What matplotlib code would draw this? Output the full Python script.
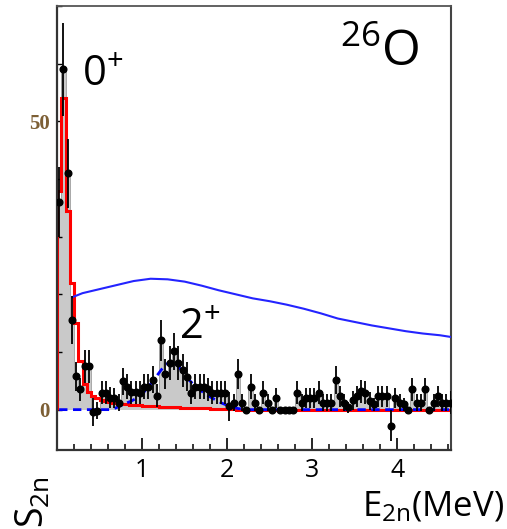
import numpy as np
import matplotlib
matplotlib.use("Agg")
import matplotlib.pyplot as plt
from matplotlib.ticker import MultipleLocator, FixedLocator, NullFormatter

plt.rcParams['font.family'] = ['Open Sans', 'DejaVu Sans']
plt.rcParams['mathtext.default'] = 'regular'

# 0.05 MeV bins, 0 .. 4.65 MeV
bin_width = 0.05
n_bins = 93

counts = [36, 59, 41, 15.5, 5.8, 3.5, 7.5, 7.5, -0.4, -0.2,
          2.9, 2.9, 2.1, 2.0, 1.2, 4.9, 4.0, 3.0, 3.0, 2.9,
          4.0, 4.0, 5.2, 2.4, 12.0, 6.2, 8.1, 10.1, 8.1, 6.8,
          5.7, 2.9, 4.0, 4.0, 4.0, 3.5, 2.9, 2.9, 2.9, 2.9,
          0.6, 1.2, 6.1, 1.2, 0.0, 4.0, 1.2, 0.0, 2.9, 1.2,
          0.0, 2.0, 0.0, 0.0, 0.0, 0.0, 2.9, 1.2, 2.0, 2.0,
          2.0, 2.9, 1.2, 1.2, 1.2, 5.1, 2.3, 1.2, 0.4, 1.6,
          2.3, 3.2, 2.9, 1.5, 0.9, 2.3, 2.3, 2.3, -2.8, 2.0,
          1.2, 0.9, 0.0, 3.5, 1.2, 1.2, 3.5, 0.0, 1.2, 2.3,
          1.2, 1.2, 1.2]

errors = [6, 8, 6, 4.2, 2.5, 2, 2.8, 2.8, 2.5, 1.5,
          2, 2, 1.8, 1.8, 1.5, 2.3, 2.2, 2, 2, 2,
          2.2, 2.2, 2.4, 2, 3.5, 2.6, 3, 3.2, 3, 2.8,
          2.5, 2, 2.2, 2.2, 2.2, 2, 2, 2, 2, 2,
          2.5, 1.5, 2.6, 1.5, 0.5, 2.2, 1.5, 0.5, 2, 1.5,
          0.5, 1.8, 0.5, 0.5, 0.5, 0.5, 2, 1.5, 1.8, 1.8,
          1.8, 2, 1.5, 1.5, 1.5, 2.4, 1.8, 1.5, 1, 1.6,
          1.8, 2, 2, 1.6, 1.2, 1.8, 1.8, 1.8, 2.7, 1.8,
          1.5, 1.2, 0.5, 2, 1.5, 1.5, 2, 0.5, 1.5, 1.8,
          1.5, 1.5, 2]

fit_0plus = [38, 54, 34.5, 22, 15, 8.4, 4.5, 3.0, 2.4, 2.0,
             1.7, 1.5, 1.3, 1.2, 1.1, 1.0, 0.9, 0.85, 0.8, 0.75,
             0.7, 0.65, 0.6, 0.55, 0.5, 0.5, 0.45, 0.4, 0.4, 0.35,
             0.3, 0.3, 0.25, 0.25, 0.2, 0.2, 0.15, 0.15, 0.1, 0.1,
             0.1, 0.05] + [0.0] * 51

fit_2plus = [0.0] * 13 + [0.2, 0.5, 0.9, 1.2, 1.5, 1.9, 2.4,
                          3.1, 4.0, 4.9, 5.9, 6.9, 7.8, 8.2, 8.1, 7.5, 6.6,
                          5.6, 4.8, 4.1, 3.5, 2.9, 2.4, 2.0, 1.6, 1.2, 0.9,
                          0.6, 0.4, 0.2, 0.1] + [0.0] * 49

curve_e = [0.18, 0.3, 0.5, 0.7, 0.9, 1.1, 1.3, 1.5, 1.7, 1.9, 2.1, 2.3,
           2.5, 2.7, 2.9, 3.1, 3.3, 3.5, 3.7, 3.9, 4.1, 4.3, 4.5, 4.63]
curve_y = [19.5, 20.2, 20.9, 21.6, 22.3, 22.7, 22.6, 22.2, 21.5, 20.7, 20.0, 19.3,
           18.8, 18.2, 17.5, 16.7, 15.8, 15.2, 14.6, 14.1, 13.6, 13.2, 12.9, 12.6]

edges = np.arange(n_bins + 1) * bin_width
centers = edges[:-1] + bin_width / 2

fig = plt.figure(figsize=(5.07, 5.29), dpi=100)
ax = fig.add_axes([57 / 507, 1 - 450 / 529, 394 / 507, 444 / 529])

ax.stairs(np.clip(counts, 0, None), edges, fill=True, color='#c9c9c9', zorder=1)
ax.stairs(np.clip(counts, 0, None), edges, color='#9a9a9a', lw=0.6, zorder=1)
ax.stairs(fit_0plus, edges, color='red', lw=2.2, zorder=2)
ax.plot(centers, fit_2plus, color='blue', lw=2.0, dashes=(3, 2), zorder=3)
ax.plot(curve_e, curve_y, color='#2424ff', lw=1.5, zorder=3)
ax.errorbar(centers, counts, yerr=errors, fmt='o', color='black', ms=4.8,
            elinewidth=1.3, capsize=0, zorder=4)

ax.set_xlim(0, 4.63)
ax.set_ylim(-7, 70)

ax.xaxis.set_major_locator(FixedLocator([1, 2, 3, 4]))
ax.xaxis.set_minor_locator(MultipleLocator(0.2))
ax.tick_params(axis='x', which='major', direction='in', length=8.5, width=1.2,
               pad=6, labelsize=18, top=False)
ax.tick_params(axis='x', which='minor', direction='in', length=4.5, width=1.1, top=False)

ax.yaxis.set_major_locator(FixedLocator([0, 50]))
ax.yaxis.set_minor_locator(MultipleLocator(10))
ax.yaxis.set_minor_formatter(NullFormatter())
ax.tick_params(axis='y', which='both', direction='in', length=3.5, width=1.0,
               right=False, pad=5)
for lab in ax.get_yticklabels():
    lab.set_family('Liberation Serif')
    lab.set_fontsize(15)
    lab.set_fontweight('bold')
    lab.set_color('#7d5f35')

for side, lw, c in [('left', 1.6, '#333333'), ('bottom', 1.6, '#333333'),
                    ('top', 1.3, '#555555'), ('right', 1.5, '#444444')]:
    ax.spines[side].set_linewidth(lw)
    ax.spines[side].set_color(c)

# state labels
fig.text(82 / 507, 1 - 86 / 529, '0$^{+}$', fontsize=30, ha='left', va='baseline')
fig.text(179 / 507, 1 - 339 / 529, '2$^{+}$', fontsize=30, ha='left', va='baseline')
fig.text(340 / 507, 1 - 66 / 529, '$^{26}$O', fontsize=36, ha='left', va='baseline')

# axis labels
fig.text(53 / 507, 1 - 528 / 529, 'S$_{2n}$', fontsize=27, rotation=90,
         ha='right', va='bottom')
fig.text(504 / 507, 1 - 524 / 529, 'E$_{2n}$(MeV)', fontsize=25,
         ha='right', va='bottom')

fig.savefig('out.png', dpi=100)
